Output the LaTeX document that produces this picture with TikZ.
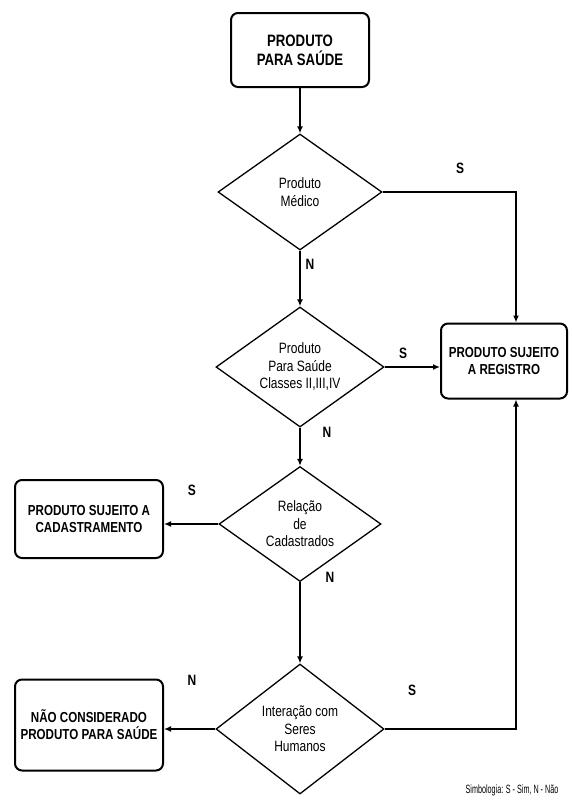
\documentclass[tikz,border=0pt]{standalone}
\usepackage{fontspec}
\setmainfont{Liberation Sans}
\newfontfamily\narrowfont[FakeStretch=0.8]{Liberation Sans}
\newfontfamily\tightfont[FakeStretch=0.6]{Liberation Sans}
\usetikzlibrary{arrows.meta,shapes.geometric}
\newcommand{\answer}[3]{%
  \node[answer] (#1) at (#2) {#3};
}

\begin{document}
\begin{tikzpicture}[x=1pt,y=-1pt,font=\narrowfont,
    endbox/.style={draw,line width=2pt,rounded corners=7pt,align=center,inner sep=0pt,
      font=\narrowfont\bfseries\fontsize{14.5}{17}\selectfont},
    decision/.style={draw,diamond,line width=1.3pt,aspect=1.4,align=center,inner sep=0pt,
      font=\narrowfont\fontsize{15}{17.5}\selectfont},
    answer/.style={font=\narrowfont\bfseries\fontsize{15}{17}\selectfont},
    flow/.style={line width=1.4pt,-{Latex[length=7pt,width=6pt]}}]
  \useasboundingbox (0,0) rectangle (571,804);
  % boxes
  \node[endbox,minimum width=138,minimum height=74,font=\narrowfont\bfseries\fontsize{16.5}{19}\selectfont]
    (saude) at (300,50) {PRODUTO\\PARA SAÚDE};
  \node[endbox,minimum width=126,minimum height=75] (registro) at (504,361) {PRODUTO SUJEITO\\A REGISTRO};
  \node[endbox,minimum width=148,minimum height=78] (cadastro) at (89,519) {PRODUTO SUJEITO A\\CADASTRAMENTO};
  \node[endbox,minimum width=148,minimum height=91] (naocons) at (89,725) {NÃO CONSIDERADO\\PRODUTO PARA SAÚDE};
  % decisions
  \node[decision,minimum width=164,minimum height=116] (medico) at (300,192) {Produto\\Médico};
  \node[decision,minimum width=168,minimum height=120] (classes) at (300,367) {Produto\\Para Saúde\\Classes II,III,IV};
  \node[decision,minimum width=162,minimum height=115] (relacao) at (300,524) {Relação\\de\\Cadastrados};
  \node[decision,minimum width=168,minimum height=130] (interacao) at (300,729) {Interação com\\Seres\\Humanos};
  % connectors
  \draw[flow] (saude) -- (medico);
  \draw[flow] (medico) -- (classes);
  \draw[flow] (medico.east) -| ([xshift=12pt]registro.north);
  \draw[flow] (classes.east) -- (classes.east -| registro.west);
  \draw[flow] (classes) -- (relacao);
  \draw[flow] (relacao.west) -- (relacao.west -| cadastro.east);
  \draw[flow] (relacao) -- (interacao);
  \draw[flow] (interacao.west) -- (interacao.west -| naocons.east);
  \draw[flow] (interacao.east) -| ([xshift=12pt]registro.south);
  % answers
  \answer{s1}{460,168}{S}
  \answer{n1}{310,264}{N}
  \answer{s2}{403,353}{S}
  \answer{n2}{327,432}{N}
  \answer{s3}{192,490}{S}
  \answer{n3}{330,577}{N}
  \answer{n4}{192,680}{N}
  \answer{s4}{412,690}{S}
  \node[font=\tightfont\fontsize{12}{14}\selectfont] (legenda) at (512,790) {Simbologia: S - Sim, N - Não};
\end{tikzpicture}
\end{document}
